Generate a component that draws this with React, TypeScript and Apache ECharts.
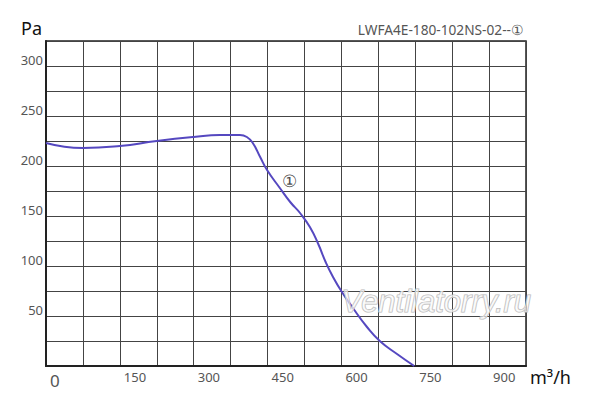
import React, { useEffect, useRef } from "react";
import * as echarts from "echarts";

const flow = [0, 75, 150, 225, 300, 353, 394, 408, 420, 435, 449, 475, 496, 516, 536, 553, 568, 583, 601, 622, 652, 678, 713, 748];
const pressure = [223, 218, 220, 225, 229, 231, 231, 229, 223, 209, 196, 178, 164, 153, 139, 122, 104, 89, 74, 59, 39, 25, 12, 0];
const curveLabel = "①";
const curveLabelAt = [494, 186];
const title = "LWFA4E-180-102NS-02--①";
const yUnit = "Pa";
const xUnit = "m³/h";
const watermark = "Ventilatorry.ru";

export default function App() {
  const ref = useRef<HTMLDivElement>(null);
  useEffect(() => {
    const chart = echarts.init(ref.current!, null, { renderer: "svg" });
    const font = "'Noto Sans', sans-serif";
    chart.setOption({
      animation: false,
      grid: { left: 46, top: 41, right: 74, bottom: 43, show: true, borderColor: "#222", borderWidth: 1.5 },
      xAxis: {
        type: "value",
        min: 0,
        max: 975,
        interval: 75,
        axisLine: { show: true, lineStyle: { color: "#222", width: 2 } },
        axisTick: { show: false },
        splitLine: { show: true, lineStyle: { color: "#444", width: 1 } },
        axisLabel: {
          color: "#555",
          fontSize: 13,
          fontFamily: font,
          align: "left",
          padding: [0, 0, 0, 4],
          margin: 4,
          formatter: (v: number) => (v === 0 ? "{z|0}" : v % 150 === 0 && v < 975 ? String(v) : ""),
          rich: { z: { fontSize: 17, color: "#555", fontFamily: font, padding: [2, 0, 0, 0] } },
        },
      },
      yAxis: {
        type: "value",
        min: 0,
        max: 325,
        interval: 25,
        axisLine: { show: true, lineStyle: { color: "#222", width: 2 } },
        axisTick: { show: false },
        splitLine: { show: true, lineStyle: { color: "#444", width: 1 } },
        axisLabel: {
          color: "#555",
          fontSize: 13,
          fontFamily: font,
          verticalAlign: "bottom",
          margin: 3,
          formatter: (v: number) => (v !== 0 && v % 50 === 0 ? String(v) : ""),
        },
      },
      series: [
        {
          type: "line",
          data: flow.map((x, i) => [x, pressure[i]]),
          smooth: 0.5,
          symbol: "none",
          lineStyle: { color: "#5548c0", width: 2 },
          z: 5,
        },
        {
          type: "scatter",
          data: [curveLabelAt],
          symbolSize: 0,
          label: {
            show: true,
            position: "inside",
            formatter: curveLabel,
            fontSize: 17,
            color: "#222",
            fontFamily: font,
          },
          silent: true,
        },
      ],
      graphic: [
        { type: "text", left: 21, top: 19, style: { text: yUnit, fontSize: 18, fill: "#111", fontFamily: font } },
        { type: "text", left: 530, top: 368, style: { text: xUnit, fontSize: 18, fill: "#111", fontFamily: font } },
        { type: "text", right: 76, top: 22, style: { text: title, fontSize: 13.7, fill: "#555", fontFamily: font } },
        {
          type: "text",
          left: 341,
          top: 285,
          z: 10,
          style: {
            text: watermark,
            fontSize: 31,
            fontStyle: "italic",
            fontFamily: "'Liberation Sans', Arial, sans-serif",
            fill: "rgba(255,255,255,0.6)",
            stroke: "#b8b8b8",
            lineWidth: 1.2,
          },
        },
      ],
    });
    return () => chart.dispose();
  }, []);
  return <div ref={ref} style={{ width: 600, height: 409, position: "absolute", left: 0, top: 0 }} />;
}
